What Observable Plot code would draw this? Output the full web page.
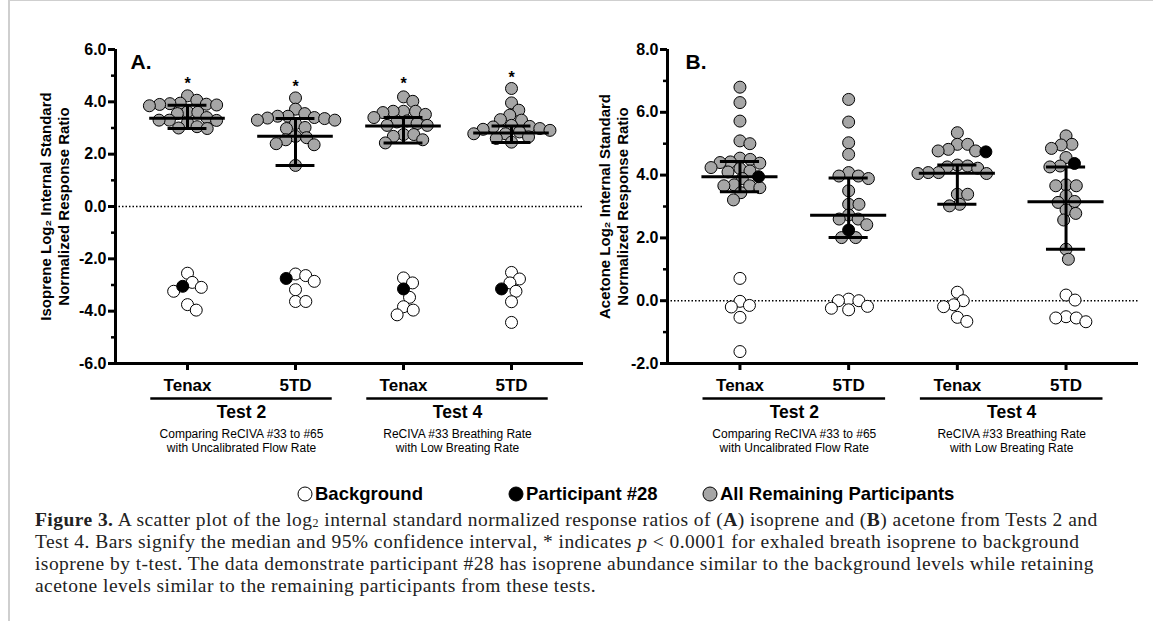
<!DOCTYPE html>
<html><head><meta charset="utf-8">
<script src="https://cdn.jsdelivr.net/npm/d3@7"></script>
<script src="https://cdn.jsdelivr.net/npm/@observablehq/plot@0.6"></script>
<style>
body{margin:0;background:#fff;}
#fig{position:relative;width:1153px;height:621px;overflow:hidden;font-family:"Liberation Sans",Arial,sans-serif;background:#fff;}
.panel{position:absolute;top:0;}
#borderL{position:absolute;left:8px;top:0;width:2px;height:621px;background:#cfcfcf;}
#borderT{position:absolute;left:8px;top:0;width:1145px;height:1px;background:#cfcfcf;}
#legend{position:absolute;left:0;top:483px;width:1153px;height:22px;}
.item{position:absolute;top:0;display:flex;align-items:center;font-weight:bold;font-size:18.5px;color:#000;white-space:nowrap;}
.item svg{margin-right:2px;}
#caption{position:absolute;left:35px;top:509px;font-family:"Liberation Serif","Times New Roman",serif;font-size:19.5px;letter-spacing:0.45px;line-height:22px;color:#222;white-space:nowrap;}
#caption sub{font-size:12px;line-height:0;vertical-align:-1px;}
</style></head><body>
<div id="fig">
  <div id="borderL"></div><div id="borderT"></div>
  <div id="panelA" class="panel" style="left:0px"></div>
  <div id="panelB" class="panel" style="left:590px"></div>
  <div id="legend"></div>
  <div id="caption"><b>Figure 3.</b> A scatter plot of the log<sub>2</sub> internal standard normalized response ratios of (<b>A</b>) isoprene and (<b>B</b>) acetone from Tests 2 and<br>Test 4. Bars signify the median and 95% confidence interval, * indicates <i>p</i> &lt; 0.0001 for exhaled breath isoprene to background<br>isoprene by t-test. The data demonstrate participant #28 has isoprene abundance similar to the background levels while retaining<br>acetone levels similar to the remaining participants from these tests.</div>
</div>
<script>
// ---- categories / labels ----
const xLabels = ["Tenax", "5TD", "Tenax", "5TD"];
const groupNames = ["Test 2", "Test 4"];
const groupNotes = ["Comparing ReCIVA #33 to #65\nwith Uncalibrated Flow Rate", "ReCIVA #33 Breathing Rate\nwith Low Breating Rate"];
const legendLabels = ["Background", "Participant #28", "All Remaining Participants"];
const legendFills = ["white", "black", "#a6a6a6"];

// ---- isoprene (panel A) ----
const isopreneRemaining = [
  [4.23, 4.06, 3.95, 3.93, 3.91, 3.9, 3.88, 3.85, 3.62, 3.6, 3.55, 3.4, 3.3, 3.3, 3.29, 3.2, 3.05, 3.0, 2.98],
  [4.15, 3.72, 3.55, 3.45, 3.45, 3.4, 3.38, 3.36, 3.3, 3.3, 3.17, 3.02, 2.98, 2.68, 2.63, 2.55, 2.4, 2.36, 1.57],
  [4.19, 4.02, 3.64, 3.64, 3.64, 3.59, 3.52, 3.4, 3.27, 3.23, 3.17, 3.1, 3.1, 2.75, 2.75, 2.68, 2.55, 2.43],
  [4.51, 3.96, 3.68, 3.49, 3.32, 3.3, 3.1, 3.06, 3.04, 2.98, 2.95, 2.91, 2.85, 2.78, 2.78, 2.66, 2.6, 2.46]
];
const isopreneBackground = [
  [-2.55, -2.9, -3.09, -3.24, -3.75, -3.96],
  [-2.58, -2.64, -2.86, -3.18, -3.63, -3.63],
  [-2.73, -2.92, -3.47, -3.83, -3.96, -4.14],
  [-2.52, -2.77, -2.92, -3.24, -3.64, -4.43]
];
const isopreneP28 = [-3.05, -2.75, -3.15, -3.15];
const isopreneMedian = [3.37, 2.68, 3.08, 2.81];
const isopreneCILow = [2.98, 1.57, 2.43, 2.45];
const isopreneCIHigh = [3.87, 3.36, 3.4, 3.08];
const isopreneStar = [4.83, 4.74, 4.83, 5.08];

// ---- acetone (panel B) ----
const acetoneRemaining = [
  [6.8, 6.31, 5.72, 5.09, 5.0, 4.54, 4.5, 4.42, 4.4, 4.38, 4.24, 4.21, 4.13, 4.1, 3.89, 3.69, 3.66, 3.66, 3.6, 3.44, 3.21],
  [6.41, 5.69, 5.03, 4.66, 4.08, 3.97, 3.97, 3.89, 3.5, 3.07, 3.07, 2.73, 2.6, 2.6, 2.42, 2.01, 2.01],
  [5.35, 4.98, 4.98, 4.82, 4.77, 4.77, 4.32, 4.29, 4.26, 4.22, 4.08, 4.08, 4.05, 4.05, 3.39, 3.39, 3.07, 3.02],
  [5.25, 4.98, 4.96, 4.85, 4.56, 4.29, 4.26, 3.69, 3.66, 3.66, 3.34, 3.16, 3.13, 2.89, 2.78, 2.57, 1.64, 1.32]
];
const acetoneBackground = [
  [0.71, -0.02, -0.15, -0.2, -0.53, -1.62],
  [0.05, 0.0, 0.0, -0.18, -0.24, -0.29],
  [0.27, 0.0, -0.13, -0.19, -0.53, -0.66],
  [0.18, 0.02, -0.51, -0.55, -0.55, -0.67]
];
const acetoneP28 = [3.95, 2.25, 4.74, 4.37];
const acetoneMedian = [3.95, 2.72, 4.06, 3.15];
const acetoneCILow = [3.47, 2.01, 3.07, 1.64];
const acetoneCIHigh = [4.43, 3.91, 4.32, 4.26];

// simple beeswarm: horizontal offsets so circles barely overlap
function swarm(col, kx, ky, r) {
  const d = 2 * r * 0.86;
  const placed = [];
  const order = d3.range(col.length).sort((a, b) => d3.descending(col[a].v, col[b].v));
  for (const i of order) {
    const py = col[i].v * ky;
    const cands = [0];
    for (const q of placed) {
      const dy = Math.abs(py - q.py);
      if (dy < d) { const dx = Math.sqrt(d * d - dy * dy); cands.push(q.px + dx, q.px - dx); }
    }
    cands.sort((a, b) => Math.abs(a) - Math.abs(b));
    const px = cands.find(c => placed.every(q => (c - q.px) ** 2 + (py - q.py) ** 2 >= d * d - 0.01));
    placed.push({px, py});
    col[i].dx = px / kx;
  }
}

function panel(o) {
  const height = 460, marginTop = 49, marginBottom = 97;
  const xDomain = [1 / 3, 14 / 3];
  const kx = (o.width - o.marginLeft - o.marginRight) / (xDomain[1] - xDomain[0]);
  const ky = (height - marginTop - marginBottom) / (o.yDomain[1] - o.yDomain[0]);
  const r = 6;
  const points = [];
  for (let c = 0; c < 4; c++) {
    const col = [];
    o.remaining[c].forEach(v => col.push({col: c + 1, v, kind: "rest"}));
    o.background[c].forEach(v => col.push({col: c + 1, v, kind: "bg"}));
    col.push({col: c + 1, v: o.p28[c], kind: "p28"});
    swarm(col, kx, ky, r);
    points.push(...col);
  }
  const cols = xLabels.map((lab, i) => ({x: i + 1, med: o.median[i], lo: o.ciLow[i], hi: o.ciHigh[i], star: o.star ? o.star[i] : null}));
  const groups = groupNames.map((g, i) => ({x: 1.5 + 2 * i, name: g, note: groupNotes[i]}));
  const px = d => d.col + d.dx;
  const marks = [
    Plot.ruleY([0], {strokeDasharray: "1.5,2", strokeWidth: 1.5, stroke: "black"}),
    Plot.dot(points.filter(d => d.kind === "rest"), {x: px, y: "v", r, fill: "#a6a6a6", stroke: "black", strokeWidth: 1}),
    Plot.dot(points.filter(d => d.kind === "bg"), {x: px, y: "v", r, fill: "white", stroke: "black", strokeWidth: 1}),
    Plot.dot(points.filter(d => d.kind === "p28"), {x: px, y: "v", r, fill: "black", stroke: "black", strokeWidth: 1}),
    Plot.ruleY(cols, {x1: d => d.x - 0.35, x2: d => d.x + 0.35, y: "med", strokeWidth: 3}),
    Plot.ruleY(cols, {x1: d => d.x - 0.18, x2: d => d.x + 0.18, y: "lo", strokeWidth: 3}),
    Plot.ruleY(cols, {x1: d => d.x - 0.18, x2: d => d.x + 0.18, y: "hi", strokeWidth: 3}),
    Plot.ruleX(cols, {x: "x", y1: "lo", y2: "hi", strokeWidth: 3}),
    o.star ? Plot.text(cols, {x: "x", y: "star", text: () => "*", fontSize: 16, fontWeight: "bold", dy: 4}) : null,
    Plot.ruleX([xDomain[0]], {strokeWidth: 3}),
    Plot.ruleY([o.yDomain[0]], {strokeWidth: 3}),
    Plot.axisY({ticks: o.yTicks, tickFormat: d => d.toFixed(1), tickSize: 7, tickPadding: 2, fontSize: 16, fontWeight: "bold", strokeWidth: 3, label: null}),
    Plot.axisY({ticks: o.yMinor, tickFormat: () => "", tickSize: 4, strokeWidth: 2.5, label: null}),
    Plot.axisX({ticks: [1, 2, 3, 4], tickFormat: d => xLabels[d - 1], tickSize: 7, tickPadding: 8, fontSize: 17, fontWeight: "bold", strokeWidth: 3, label: null}),
    Plot.ruleY(groups, {x1: d => d.x - 0.84, x2: d => d.x + 0.84, y: () => o.yDomain[0], dy: 35, strokeWidth: 2.5}),
    Plot.text(groups, {x: "x", frameAnchor: "bottom", text: "name", dy: 49, fontSize: 17.5, fontWeight: "bold", lineAnchor: "middle"}),
    Plot.text(groups, {x: "x", frameAnchor: "bottom", text: "note", dy: 77, fontSize: 12, lineHeight: 1.15, lineAnchor: "middle"}),
    Plot.text([o.letter], {text: d => d, frameAnchor: "top-left", dx: o.letterDx, dy: 13, fontSize: 21, fontWeight: "bold", textAnchor: "start", lineAnchor: "middle"}),
    Plot.text([o.yLabel], {text: d => d, frameAnchor: "left", rotate: -90, dx: o.labelDx, fontSize: 15, fontWeight: "bold", lineHeight: 1.2, lineAnchor: "middle", textAnchor: "middle"})
  ];
  const chart = Plot.plot({
    width: o.width, height, marginTop, marginBottom, marginLeft: o.marginLeft, marginRight: o.marginRight,
    x: {domain: xDomain, axis: null},
    y: {domain: o.yDomain, axis: null},
    style: {fontFamily: "'Liberation Sans', Arial, sans-serif", color: "black", background: "transparent", overflow: "visible"},
    marks: marks.filter(Boolean)
  });
  document.getElementById(o.el).appendChild(chart);
}

panel({
  el: "panelA", width: 590, marginLeft: 115, marginRight: 7,
  yDomain: [-6, 6], yTicks: [-6, -4, -2, 0, 2, 4, 6], yMinor: [-5, -3, -1, 1, 3, 5],
  yLabel: "Isoprene Log\u2082 Internal Standard\nNormalized Response Ratio", labelDx: -61, letter: "A.", letterDx: 15,
  remaining: isopreneRemaining, background: isopreneBackground, p28: isopreneP28,
  median: isopreneMedian, ciLow: isopreneCILow, ciHigh: isopreneCIHigh, star: isopreneStar
});
panel({
  el: "panelB", width: 563, marginLeft: 77, marginRight: 15,
  yDomain: [-2, 8], yTicks: [-2, 0, 2, 4, 6, 8], yMinor: [-1, 1, 3, 5, 7],
  yLabel: "Acetone Log\u2082 Internal Standard\nNormalized Response Ratio", labelDx: -54, letter: "B.", letterDx: 18,
  remaining: acetoneRemaining, background: acetoneBackground, p28: acetoneP28,
  median: acetoneMedian, ciLow: acetoneCILow, ciHigh: acetoneCIHigh, star: null
});

// legend
const legendX = [297, 508, 702];
const legend = document.getElementById("legend");
legendLabels.forEach((lab, i) => {
  const span = document.createElement("span");
  span.className = "item";
  span.style.left = legendX[i] + "px";
  span.innerHTML = `<svg width="16" height="16"><circle cx="8" cy="8" r="7" fill="${legendFills[i]}" stroke="black" stroke-width="1"/></svg>${lab}`;
  legend.appendChild(span);
});
</script>
</body></html>
